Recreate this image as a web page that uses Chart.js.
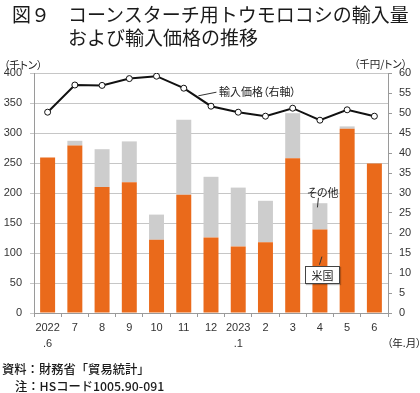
<!DOCTYPE html>
<html lang="ja">
<head>
<meta charset="utf-8">
<script src="https://cdn.jsdelivr.net/npm/chart.js@4/dist/chart.umd.min.js"></script>
<style>
  html,body{margin:0;padding:0;background:#fff;}
  #wrap{position:relative;width:420px;height:393px;overflow:hidden;background:#fff;
        font-family:"Noto Sans CJK JP","Noto Sans",sans-serif;color:#1a1a1a;font-feature-settings:"palt";}
  #c{position:absolute;left:0;top:0;}
  .t{position:absolute;white-space:nowrap;line-height:1;}
  .title{font-size:19px;font-weight:400;font-feature-settings:normal;}
  .small{font-size:10.5px;color:#222;}
  .foot{font-size:12.3px;font-weight:500;font-feature-settings:normal;}
  .ann{font-size:11px;color:#222;}
  #usbox{position:absolute;left:305px;top:266px;width:33px;height:16px;border:1px solid #444;background:#fff;
         font-size:11px;text-align:center;line-height:16px;box-sizing:content-box;box-shadow:1px 1px 1px rgba(0,0,0,0.25);}
</style>
</head>
<body>
<div id="wrap">
  <canvas id="c" width="420" height="393"></canvas>
  <div class="t title" style="left:12px;top:4px;">図９</div>
  <div class="t title" style="left:68px;top:4px;">コーンスターチ用トウモロコシの輸入量</div>
  <div class="t title" style="left:68px;top:27px;">および輸入価格の推移</div>
  <div class="t small" style="left:4px;top:60px;">（千トン）</div>
  <div class="t small" style="left:354px;top:59px;">（千円/トン）</div>
  <div class="t small" style="left:387px;top:338px;">（年.月）</div>
  <div class="t ann" style="left:219px;top:86px;">輸入価格（右軸）</div>
  <div class="t ann" style="left:307px;top:187px;">その他</div>
  <div id="usbox">米国</div>
  <div class="t foot" style="left:2px;top:363px;">資料：財務省「貿易統計」</div>
  <div class="t foot" style="left:15px;top:380px;">注：HSコード1005.90-091</div>
</div>
<script>
// ---- data ----
const categories = [["2022", ".6"], "7", "8", "9", "10", "11", "12", ["2023", ".1"], "2", "3", "4", "5", "6"];
const usImports    = [259, 279, 210, 218, 122, 197, 126, 111, 118, 258, 139, 307, 249];
const otherImports = [0, 8, 63, 68, 42, 125, 101, 98, 69, 75, 44, 4, 0];
const importPrice  = [50.2, 57.0, 56.9, 58.6, 59.2, 56.2, 51.7, 50.2, 49.2, 51.2, 48.2, 50.8, 49.2];
const leftTicks  = {min: 0, max: 400, step: 50};
const rightTicks = {min: 0, max: 60, step: 5};

const ORANGE = '#EA6A1B';
const GREY = '#CDCDCD';
const tickFont = {family: '"Liberation Sans", Arial, sans-serif', size: 11, lineHeight: 1.45};

const leaders = {
  id: 'leaders',
  afterDatasetsDraw(chart) {
    const ctx = chart.ctx, x = chart.scales.x, yl = chart.scales.y, yr = chart.scales.y1;
    ctx.save();
    ctx.strokeStyle = '#333';
    ctx.lineWidth = 1;
    const seg = (x1, y1, x2, y2) => { ctx.beginPath(); ctx.moveTo(x1, y1); ctx.lineTo(x2, y2); ctx.stroke(); };
    seg(x.getPixelForValue(5.5) + 1, yr.getPixelForValue(54.3), x.getPixelForValue(6.2), yr.getPixelForValue(55.2));
    seg(x.getPixelForValue(10) - 1.5, yl.getPixelForValue(192), x.getPixelForValue(10) - 2.5, yl.getPixelForValue(176));
    seg(x.getPixelForValue(10) + 2, yl.getPixelForValue(94), x.getPixelForValue(10) - 0.5, yl.getPixelForValue(80.5));
    ctx.restore();
  }
};

new Chart(document.getElementById('c'), {
  data: {
    labels: categories,
    datasets: [
      {type: 'line', label: '輸入価格（右軸）', data: importPrice, yAxisID: 'y1', order: 0,
       borderColor: '#111', borderWidth: 2, pointRadius: 3, pointBackgroundColor: '#fff',
       pointBorderColor: '#111', pointBorderWidth: 1, tension: 0, stack: 'price'},
      {type: 'bar', label: '米国', data: usImports, yAxisID: 'y', order: 1, backgroundColor: ORANGE,
       barPercentage: 0.55, categoryPercentage: 1, stack: 'imp'},
      {type: 'bar', label: 'その他', data: otherImports, yAxisID: 'y', order: 1, backgroundColor: GREY,
       barPercentage: 0.55, categoryPercentage: 1, stack: 'imp'}
    ]
  },
  options: {
    responsive: false, animation: false, devicePixelRatio: 1,
    layout: {padding: {top: 73, bottom: 0, left: 0, right: 0}},
    plugins: {legend: {display: false}, tooltip: {enabled: false}},
    scales: {
      x: {
        stacked: true,
        grid: {offset: true, drawOnChartArea: false, drawTicks: true, tickLength: 4, color: '#9a9a9a'},
        border: {color: '#9a9a9a'},
        ticks: {font: tickFont, color: '#333', padding: 3, maxRotation: 0, autoSkip: false},
        afterFit(s) { s.height = 80; }
      },
      y: {
        position: 'left', stacked: true, min: leftTicks.min, max: leftTicks.max,
        ticks: {stepSize: leftTicks.step, padding: 8, font: tickFont, color: '#333'},
        grid: {color: '#c6c6c6', tickLength: 4},
        border: {color: '#9a9a9a'},
        afterFit(s) { s.width = 34; }
      },
      y1: {
        position: 'right', min: rightTicks.min, max: rightTicks.max,
        ticks: {stepSize: rightTicks.step, padding: 7, font: tickFont, color: '#333'},
        grid: {drawOnChartArea: false, tickLength: 4, color: '#9a9a9a'},
        border: {color: '#9a9a9a'},
        afterFit(s) { s.width = 32; }
      }
    }
  },
  plugins: [leaders]
});
</script>
</body>
</html>
